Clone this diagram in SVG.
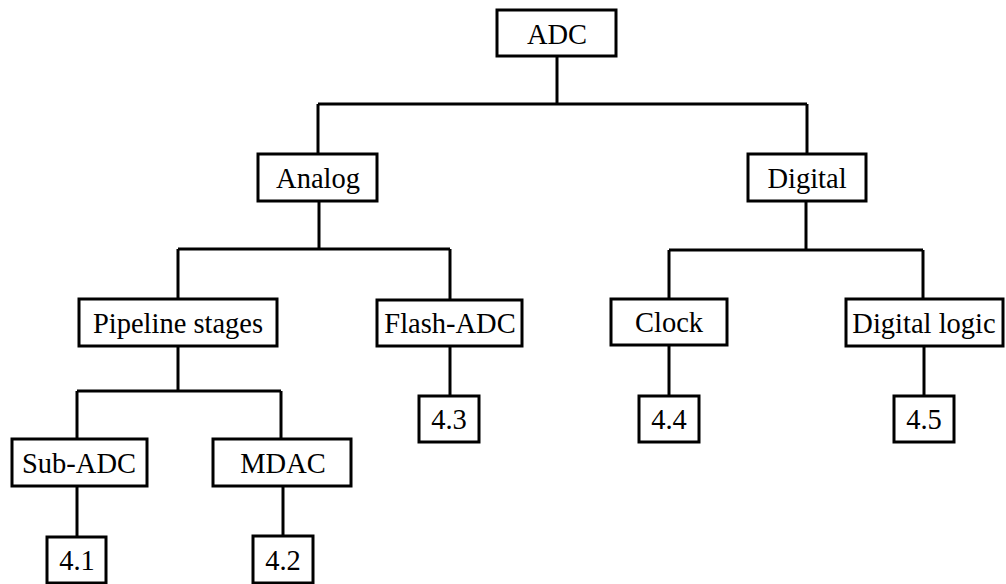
<svg xmlns="http://www.w3.org/2000/svg" width="1006" height="584" viewBox="0 0 1006 584">
<style>
rect{fill:#fff;stroke:#000;stroke-width:3}
line{stroke:#000;stroke-width:3}
text{font-family:'Liberation Serif','Times New Roman',serif;font-size:28.5px;fill:#000;text-anchor:middle}
</style>
<rect x="0" y="0" width="1006" height="584" style="stroke:none"/>
<g id="connectors">
<line x1="557" y1="57" x2="557" y2="104"/>
<line x1="318" y1="104" x2="807" y2="104"/>
<line x1="318" y1="104" x2="318" y2="153"/>
<line x1="807" y1="104" x2="807" y2="153"/>
<line x1="319" y1="202" x2="319" y2="249"/>
<line x1="178" y1="249" x2="450" y2="249"/>
<line x1="178" y1="249" x2="178" y2="298"/>
<line x1="450" y1="249" x2="450" y2="299"/>
<line x1="806" y1="202" x2="806" y2="250"/>
<line x1="669" y1="250" x2="923" y2="250"/>
<line x1="669" y1="250" x2="669" y2="298"/>
<line x1="923" y1="250" x2="923" y2="298"/>
<line x1="178" y1="347" x2="178" y2="391"/>
<line x1="77" y1="391" x2="281" y2="391"/>
<line x1="77" y1="391" x2="77" y2="438"/>
<line x1="281" y1="391" x2="281" y2="438"/>
<line x1="77" y1="487" x2="77" y2="536"/>
<line x1="283" y1="487" x2="283" y2="535"/>
<line x1="450" y1="347" x2="450" y2="395"/>
<line x1="669" y1="346" x2="669" y2="395"/>
<line x1="924" y1="347" x2="924" y2="395"/>
</g>
<g id="adc"><rect x="497" y="10" width="119" height="46"/><text x="557" y="44">ADC</text></g>
<g id="analog"><rect x="258" y="154" width="119" height="47"/><text x="318" y="188">Analog</text></g>
<g id="digital"><rect x="748" y="154" width="118" height="47"/><text x="807" y="188">Digital</text></g>
<g id="pipeline"><rect x="79" y="299" width="198" height="47"/><text x="178" y="333">Pipeline stages</text></g>
<g id="flash"><rect x="377" y="300" width="145" height="46"/><text x="450" y="333">Flash-ADC</text></g>
<g id="clock"><rect x="611" y="299" width="116" height="46"/><text x="669" y="332">Clock</text></g>
<g id="diglogic"><rect x="846" y="299" width="157" height="47"/><text x="924" y="333">Digital logic</text></g>
<g id="subadc"><rect x="12" y="439" width="135" height="47"/><text x="79" y="473">Sub-ADC</text></g>
<g id="mdac"><rect x="213" y="439" width="138" height="47"/><text x="283" y="473">MDAC</text></g>
<g id="s41"><rect x="47" y="537" width="59" height="46"/><text x="77" y="570">4.1</text></g>
<g id="s42"><rect x="253" y="536" width="60" height="47"/><text x="283" y="570">4.2</text></g>
<g id="s43"><rect x="419" y="396" width="60" height="46"/><text x="449" y="429">4.3</text></g>
<g id="s44"><rect x="639" y="396" width="60" height="46"/><text x="669" y="429">4.4</text></g>
<g id="s45"><rect x="894" y="396" width="60" height="46"/><text x="924" y="429">4.5</text></g>
</svg>
